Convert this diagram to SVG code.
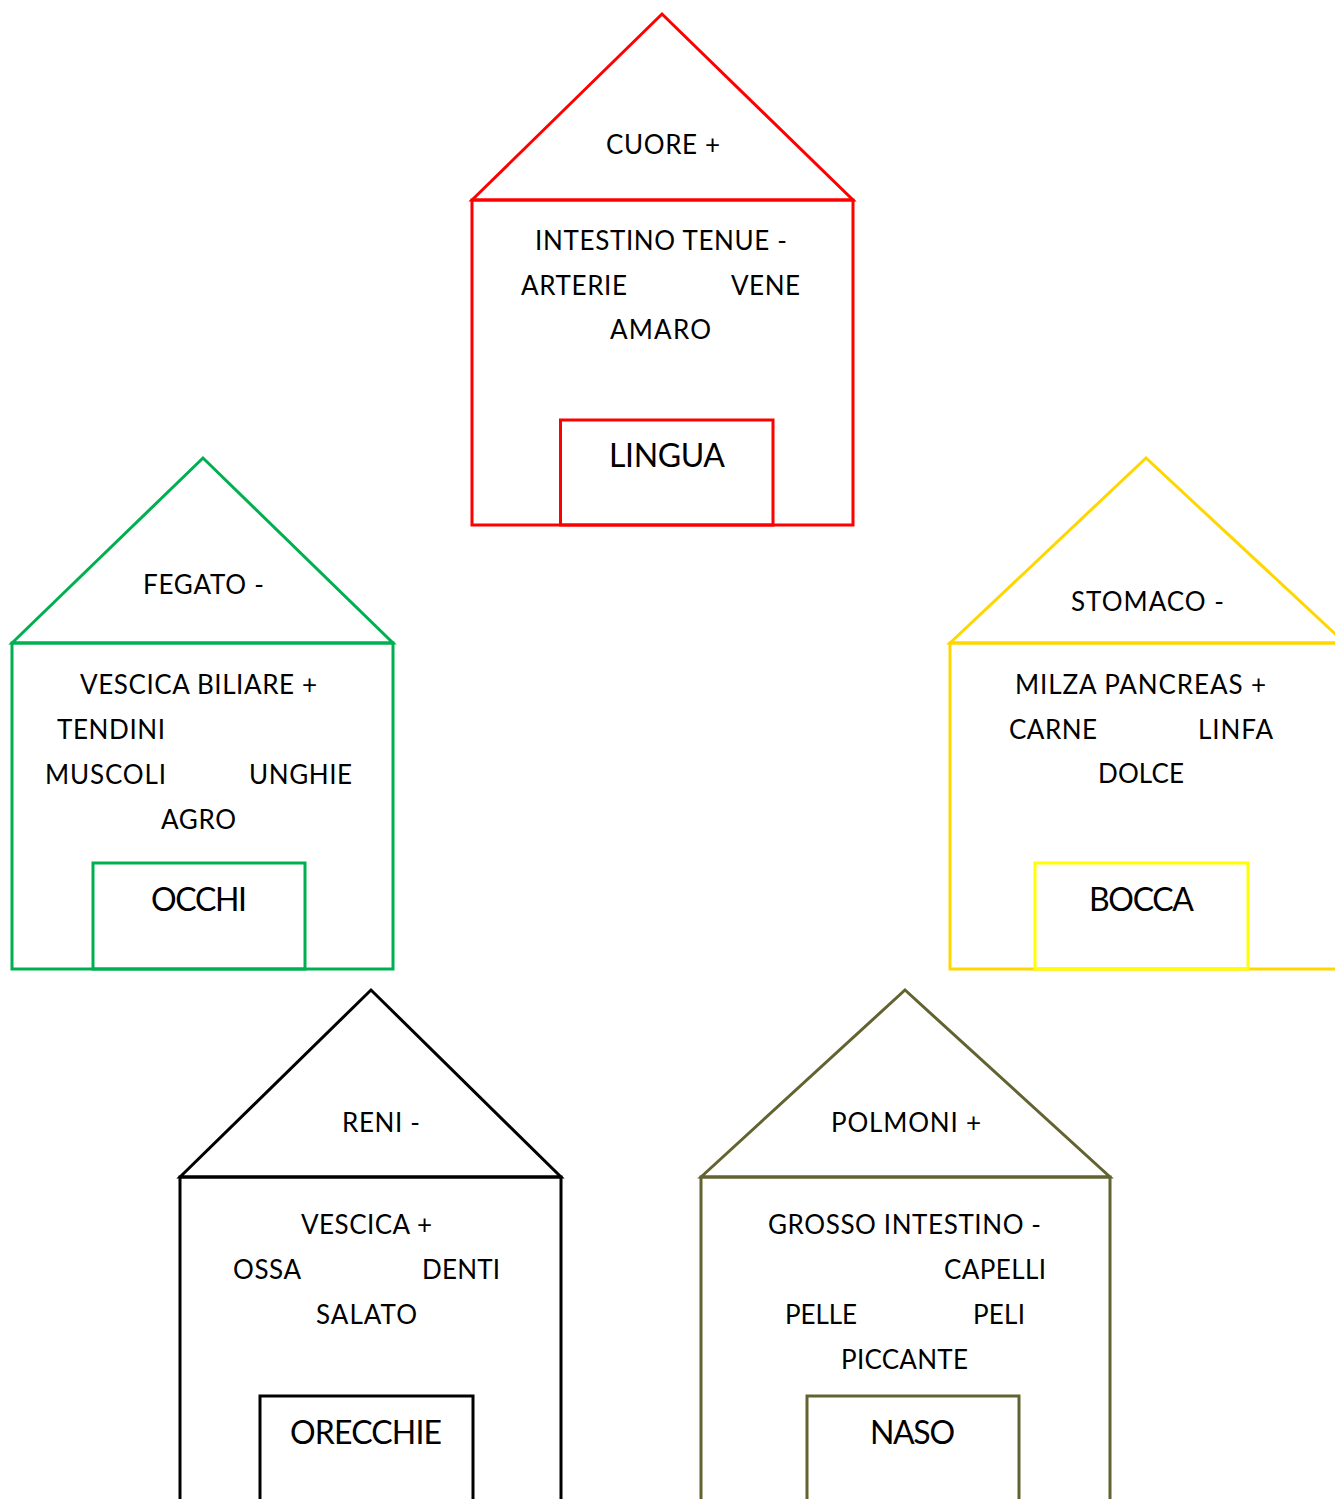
<svg xmlns="http://www.w3.org/2000/svg" width="1335" height="1499" viewBox="0 0 1335 1499">
<style>
.t{font-family:Lato,"Open Sans","Liberation Sans",sans-serif;font-size:26px;fill:#000}
.b{font-size:32px}
.s{fill:none;stroke-width:3}
.red{stroke:#FF0000}.grn{stroke:#00B050}.yel{stroke:#FFD700}.ydoor{stroke:#FFFF00}.blk{stroke:#000}.olv{stroke:#636331}
</style>
<rect width="1335" height="1499" fill="#fff"/>
<g id="house-red">
<polygon class="s red" points="472,200 662,14 853,200"/>
<rect class="s red" x="472" y="200" width="381" height="325"/>
<rect class="s red" x="560.5" y="420" width="212.5" height="105"/>
<text class="t" x="606" y="154" textLength="114">CUORE +</text>
<text class="t" x="535" y="250" textLength="252">INTESTINO TENUE -</text>
<text class="t" x="521" y="295" textLength="106">ARTERIE</text>
<text class="t" x="731" y="295" textLength="69">VENE</text>
<text class="t" x="610" y="339" textLength="101">AMARO</text>
<text class="t b" x="609" y="467" textLength="116">LINGUA</text>
</g>
<g id="house-green">
<polygon class="s grn" points="12,643 203,458 393,643"/>
<rect class="s grn" x="12" y="643" width="381" height="326"/>
<rect class="s grn" x="93" y="863" width="212" height="106"/>
<text class="t" x="143" y="594" textLength="121">FEGATO -</text>
<text class="t" x="80" y="694" textLength="237">VESCICA BILIARE +</text>
<text class="t" x="57" y="739" textLength="108">TENDINI</text>
<text class="t" x="45" y="784" textLength="121">MUSCOLI</text>
<text class="t" x="249" y="784" textLength="103">UNGHIE</text>
<text class="t" x="161" y="829" textLength="75">AGRO</text>
<text class="t b" x="151" y="911" textLength="96">OCCHI</text>
</g>
<g id="house-yellow">
<polygon class="s yel" points="950,643 1146,458 1345,643"/>
<rect class="s yel" x="950" y="643" width="400" height="326"/>
<rect class="s ydoor" x="1035" y="863" width="213" height="106"/>
<text class="t" x="1071" y="611" textLength="153">STOMACO -</text>
<text class="t" x="1015" y="694" textLength="251">MILZA PANCREAS +</text>
<text class="t" x="1009" y="739" textLength="88">CARNE</text>
<text class="t" x="1198" y="739" textLength="75">LINFA</text>
<text class="t" x="1098" y="783" textLength="86">DOLCE</text>
<text class="t b" x="1089" y="911" textLength="105">BOCCA</text>
</g>
<g id="house-black">
<polygon class="s blk" points="180,1177 371,990 561,1177"/>
<rect class="s blk" x="180" y="1177" width="381" height="340"/>
<rect class="s blk" x="260" y="1396" width="213" height="120"/>
<text class="t" x="342" y="1132" textLength="78">RENI -</text>
<text class="t" x="301" y="1234" textLength="131">VESCICA +</text>
<text class="t" x="233" y="1279" textLength="68">OSSA</text>
<text class="t" x="422" y="1279" textLength="78">DENTI</text>
<text class="t" x="316" y="1324" textLength="101">SALATO</text>
<text class="t b" x="290" y="1444" textLength="152">ORECCHIE</text>
</g>
<g id="house-olive">
<polygon class="s olv" points="701,1177 905,990 1110,1177"/>
<rect class="s olv" x="701" y="1177" width="409" height="340"/>
<rect class="s olv" x="807" y="1396" width="212" height="120"/>
<text class="t" x="831" y="1132" textLength="150">POLMONI +</text>
<text class="t" x="768" y="1234" textLength="273">GROSSO INTESTINO -</text>
<text class="t" x="944" y="1279" textLength="102">CAPELLI</text>
<text class="t" x="785" y="1324" textLength="72">PELLE</text>
<text class="t" x="973" y="1324" textLength="52">PELI</text>
<text class="t" x="841" y="1369" textLength="127">PICCANTE</text>
<text class="t b" x="870" y="1444" textLength="85">NASO</text>
</g>
<g id="connectors"></g>
</svg>
